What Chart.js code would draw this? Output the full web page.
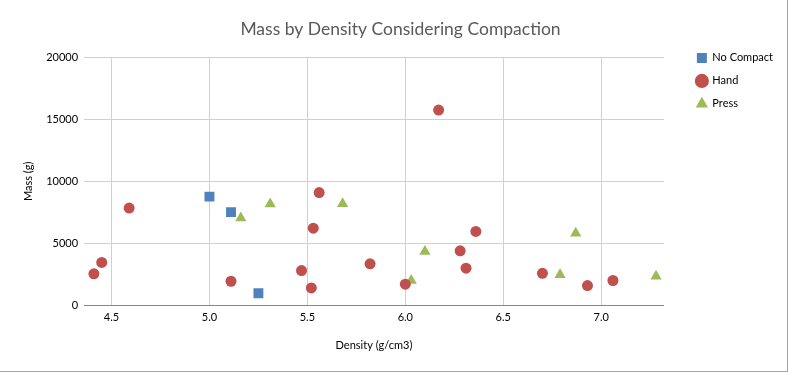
<!DOCTYPE html>
<html>
<head>
<meta charset="utf-8">
<script src="https://cdn.jsdelivr.net/npm/chart.js@4/dist/chart.umd.min.js"></script>
<style>
  html, body { margin: 0; padding: 0; background: #fff; }
  #wrap {
    width: 787px; height: 371px;
    border-right: 1px solid #a6a6a6;
    border-bottom: 1px solid #a6a6a6;
    background: #fff;
  }
</style>
</head>
<body>
<div id="wrap"><canvas id="massChart" width="787" height="371"></canvas></div>
<script>
// density (g/cm3) and mass (g) per compaction method
const noCompactDensity = [5.00, 5.11, 5.25];
const noCompactMass    = [8770, 7520, 990];

const handDensity = [4.41, 4.45, 4.59, 5.11, 5.47, 5.52, 5.53, 5.56, 5.82, 6.00, 6.17, 6.28, 6.31, 6.36, 6.70, 6.93, 7.06];
const handMass    = [2560, 3470, 7850, 1960, 2820, 1420, 6230, 9090, 3360, 1720, 15730, 4410, 3010, 5970, 2600, 1610, 2020];

const pressDensity = [5.16, 5.31, 5.68, 6.03, 6.10, 6.79, 6.87, 7.28];
const pressMass    = [7040, 8170, 8200, 2020, 4350, 2480, 5830, 2360];

const xTicks = [4.5, 5.0, 5.5, 6.0, 6.5, 7.0];
const yTicks = [0, 5000, 10000, 15000, 20000];

function pairs(xs, ys) {
    return xs.map((x, i) => ({ x: x, y: ys[i] }));
}

const font = "Lato, 'Liberation Sans', sans-serif";

new Chart(
    document.getElementById('massChart'),
    {
        type: 'scatter',
        data: {
            datasets: [
                {
                    label: 'No Compact',
                    data: pairs(noCompactDensity, noCompactMass),
                    pointStyle: 'rect',
                    pointRadius: 7,
                    backgroundColor: '#4F81BD',
                    borderColor: '#4F81BD',
                    borderWidth: 0
                },
                {
                    label: 'Hand',
                    data: pairs(handDensity, handMass),
                    pointStyle: 'circle',
                    pointRadius: 5.5,
                    backgroundColor: '#C0504D',
                    borderColor: '#C0504D',
                    borderWidth: 0
                },
                {
                    label: 'Press',
                    data: pairs(pressDensity, pressMass),
                    pointStyle: 'triangle',
                    pointRadius: 6.5,
                    backgroundColor: '#9BBB59',
                    borderColor: '#9BBB59',
                    borderWidth: 0
                }
            ]
        },
        options: {
            responsive: false,
            animation: false,
            layout: {
                padding: { left: 18, right: 4, top: 19, bottom: 15 }
            },
            plugins: {
                title: {
                    display: true,
                    text: 'Mass by Density Considering Compaction',
                    color: '#595959',
                    font: { family: font, size: 17.5, weight: 'normal' },
                    padding: { top: 0, bottom: 17 }
                },
                legend: {
                    position: 'right',
                    align: 'start',
                    title: {
                        display: true,
                        text: '',
                        padding: { top: 7, bottom: 0 }
                    },
                    labels: {
                        usePointStyle: true,
                        color: '#000',
                        font: { family: font, size: 11 },
                        padding: 12,
                        boxWidth: 10,
                        boxHeight: 10
                    }
                },
                tooltip: { enabled: false }
            },
            scales: {
                x: {
                    type: 'linear',
                    min: 4.36,
                    max: 7.32,
                    afterBuildTicks: scale => {
                        scale.ticks = xTicks.map(v => ({ value: v }));
                    },
                    ticks: {
                        color: '#000',
                        font: { family: font, size: 11 },
                        padding: 5,
                        callback: v => Number(v).toFixed(1)
                    },
                    grid: { color: '#d0d0d0', drawTicks: false },
                    border: { display: true, color: '#868686', width: 1 },
                    title: {
                        display: true,
                        text: 'Density (g/cm3)',
                        color: '#000',
                        font: { family: font, size: 11 },
                        padding: { top: 10 }
                    }
                },
                y: {
                    min: 0,
                    max: 20000,
                    afterBuildTicks: scale => {
                        scale.ticks = yTicks.map(v => ({ value: v }));
                    },
                    ticks: {
                        color: '#000',
                        font: { family: font, size: 11 },
                        padding: 6,
                        callback: v => String(v)
                    },
                    grid: { color: '#d0d0d0', drawTicks: false },
                    border: { display: false },
                    title: {
                        display: true,
                        text: 'Mass (g)',
                        color: '#000',
                        font: { family: font, size: 11 },
                        padding: { bottom: 5 }
                    }
                },
                // empty spacer between plot and legend
                spacer: {
                    position: 'right',
                    display: true,
                    grid: { display: false },
                    border: { display: false },
                    ticks: { display: false },
                    afterFit: scale => { scale.width = 21; }
                }
            }
        }
    }
);
</script>
</body>
</html>
